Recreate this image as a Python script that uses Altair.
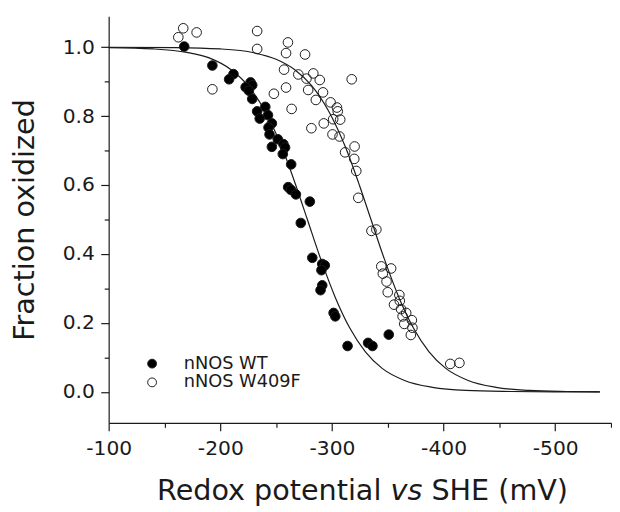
import altair as alt
import pandas as pd

FONT = "DejaVu Sans"
INK = "#1a1a1a"

series_names = ["nNOS WT", "nNOS W409F"]

# measured points, nNOS WT (filled)
wt_mv = [-167.7, -192.9, -211.8, -207.9, -227.1, -228.6, -222.7, -225.6, -228.6, -240.3,
         -233.0, -242.7, -235.3, -246.2, -243.2, -244.1, -251.5, -256.5, -246.2, -258.0,
         -256.0, -263.5, -260.8, -263.3, -267.7, -280.2, -272.1, -282.4, -291.3, -293.6,
         -290.6, -291.3, -289.8, -301.5, -303.0, -314.0, -332.4, -336.3, -350.9]
wt_frac = [1.002, 0.947, 0.922, 0.907, 0.898, 0.890, 0.884, 0.874, 0.850, 0.827,
           0.814, 0.803, 0.793, 0.779, 0.767, 0.747, 0.733, 0.719, 0.711, 0.709,
           0.690, 0.660, 0.594, 0.586, 0.573, 0.552, 0.490, 0.389, 0.371, 0.367,
           0.353, 0.309, 0.295, 0.229, 0.219, 0.133, 0.142, 0.133, 0.166]

# measured points, nNOS W409F (open)
w409f_mv = [-166.8, -162.4, -178.8, -192.9, -233.0, -233.0, -260.6, -258.9, -275.9, -257.1,
            -269.9, -277.2, -283.3, -289.1, -258.9, -248.0, -278.7, -292.0, -285.6, -298.8,
            -304.5, -305.2, -263.9, -301.1, -307.4, -292.7, -281.6, -300.5, -306.8, -311.8,
            -317.7, -320.3, -320.0, -321.8, -323.6, -335.4, -339.8, -344.2, -353.0, -345.6,
            -348.9, -350.0, -360.4, -360.8, -355.6, -361.9, -366.5, -363.3, -371.6, -364.8,
            -372.1, -370.7, -406.0, -414.2]
w409f_frac = [1.055, 1.029, 1.043, 0.878, 1.047, 0.995, 1.014, 0.983, 0.979, 0.935,
              0.921, 0.909, 0.924, 0.905, 0.883, 0.865, 0.876, 0.869, 0.847, 0.840,
              0.825, 0.814, 0.821, 0.791, 0.790, 0.779, 0.765, 0.747, 0.741, 0.695,
              0.907, 0.712, 0.676, 0.641, 0.563, 0.467, 0.471, 0.364, 0.358, 0.343,
              0.320, 0.289, 0.281, 0.264, 0.253, 0.240, 0.229, 0.219, 0.208, 0.197,
              0.186, 0.165, 0.081, 0.084]

# fitted curves
wt_fit_mv = [-100, -140, -170, -190, -210, -225, -240, -255, -268, -278, -290,
             -303, -316, -330, -345, -365, -390, -420, -460, -500, -540]
wt_fit_frac = [0.999, 0.995, 0.985, 0.969, 0.934, 0.888, 0.815, 0.711, 0.596, 0.500, 0.385,
               0.274, 0.185, 0.116, 0.068, 0.033, 0.013, 0.004, 0.001, 0.000, 0.000]
w409f_fit_mv = [-100, -160, -200, -230, -250, -267, -282, -297, -312, -325, -335,
                -347, -360, -373, -387, -402, -422, -447, -477, -510, -540]
w409f_fit_frac = [1.000, 0.999, 0.995, 0.984, 0.965, 0.934, 0.888, 0.815, 0.711, 0.596, 0.500,
                  0.385, 0.274, 0.185, 0.116, 0.068, 0.033, 0.013, 0.004, 0.001, 0.000]

x_major = [-100, -200, -300, -400, -500]
x_minor = [-150, -250, -350, -450, -550]
y_major = [0.0, 0.2, 0.4, 0.6, 0.8, 1.0]
y_minor = [0.1, 0.3, 0.5, 0.7, 0.9]

y_title = "Fraction oxidized"
x_title_parts = ["Redox potential", "vs", "SHE (mV)"]

points_df = pd.DataFrame({
    "mv": wt_mv + w409f_mv,
    "frac": wt_frac + w409f_frac,
    "series": [series_names[0]] * len(wt_mv) + [series_names[1]] * len(w409f_mv),
})
curves_df = pd.DataFrame({
    "mv": wt_fit_mv + w409f_fit_mv,
    "frac": wt_fit_frac + w409f_fit_frac,
    "series": [series_names[0]] * len(wt_fit_mv) + [series_names[1]] * len(w409f_fit_mv),
})

x_scale = alt.Scale(domain=[-100, -550], nice=False, zero=False)
y_scale = alt.Scale(domain=[-0.09, 1.09], nice=False, zero=False)

curves = alt.Chart(curves_df).mark_line(
    color=INK, strokeWidth=1.2, interpolate="monotone"
).encode(
    x=alt.X("mv:Q", scale=x_scale, axis=alt.Axis(
        orient="bottom", values=x_major, tickSize=8, labelPadding=8.5,
        labelExpr="'' + datum.value",
        labelFont=FONT, labelFontSize=20.5, labelColor=INK, labelFlush=False,
        labelOverlap=False, grid=False, title=None,
        domainColor=INK, tickColor=INK, domainWidth=1.2, tickWidth=1.2)),
    y=alt.Y("frac:Q", scale=y_scale, axis=alt.Axis(
        orient="left", values=y_major, format=".1f", tickSize=8, labelPadding=6.5,
        labelFont=FONT, labelFontSize=20.5, labelColor=INK, labelFlush=False,
        labelOverlap=False, grid=False,
        title=y_title, titleFont=FONT, titleFontSize=29, titleFontWeight="normal",
        titleColor=INK, titleX=-76.5, titleY=206, titleAngle=270,
        titleAlign="center", titleBaseline="alphabetic",
        domainColor=INK, tickColor=INK, domainWidth=1.2, tickWidth=1.2)),
    detail="series:N",
)

points = alt.Chart(points_df).mark_point(
    shape="circle", filled=True, size=95, stroke=INK, strokeWidth=1, opacity=1
).encode(
    x=alt.X("mv:Q", scale=x_scale, axis=alt.Axis(
        orient="bottom", values=x_minor, tickSize=4.5, labels=False, domain=False,
        grid=False, title=None, tickColor=INK, tickWidth=1.2)),
    y=alt.Y("frac:Q", scale=y_scale, axis=alt.Axis(
        orient="left", values=y_minor, tickSize=4.5, labels=False, domain=False,
        grid=False, title=None, tickColor=INK, tickWidth=1.2)),
    fill=alt.Fill("series:N", scale=alt.Scale(domain=series_names, range=["#000000", "transparent"]),
                  legend=alt.Legend(title=None, orient="none", legendX=35, legendY=343,
                                    symbolType="circle", symbolSize=80,
                                    symbolStrokeColor=INK, symbolStrokeWidth=1,
                                    labelFont=FONT, labelFontSize=18, labelColor=INK,
                                    labelOffset=23, rowPadding=1, padding=0)),
)

one = pd.DataFrame({"k": [0]})
t1 = alt.Chart(one).mark_text(text=x_title_parts[0], font=FONT, fontSize=29, color=INK,
                              align="right", baseline="alphabetic").encode(
    x=alt.value(276.3), y=alt.value(490))
t2 = alt.Chart(one).mark_text(text=x_title_parts[1], font=FONT, fontSize=29, color=INK,
                              fontStyle="italic", align="center", baseline="alphabetic").encode(
    x=alt.value(301.7), y=alt.value(490))
t3 = alt.Chart(one).mark_text(text=x_title_parts[2], font=FONT, fontSize=29, color=INK,
                              align="left", baseline="alphabetic").encode(
    x=alt.value(327.0), y=alt.value(490))

chart = alt.layer(curves, points, t1, t2, t3).resolve_axis(
    x="independent", y="independent"
).properties(
    width=509, height=412,
    autosize=alt.AutoSizeParams(type="none"),
    padding={"left": 102, "top": 5, "right": 1, "bottom": 87},
    background="white",
).configure_view(stroke=None)

chart.save("out.html", embed_options={"renderer": "svg", "actions": False})
